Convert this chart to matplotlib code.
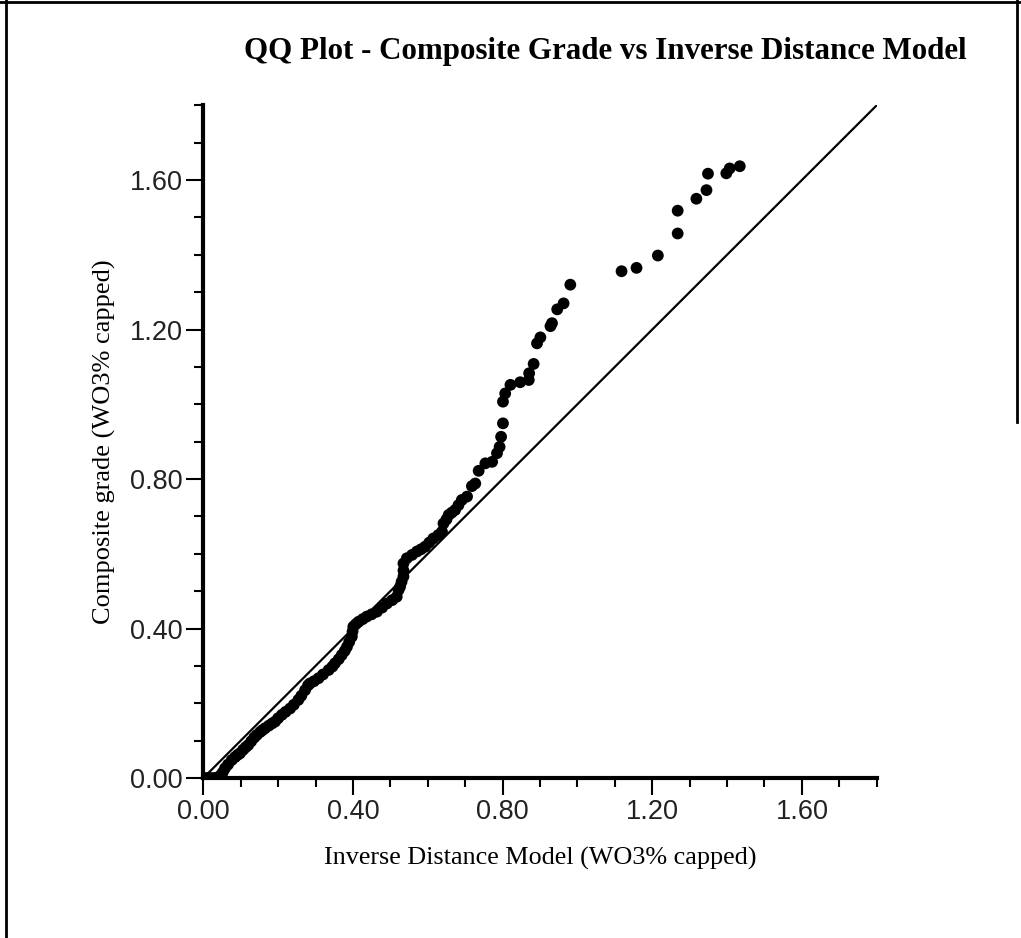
import matplotlib.pyplot as plt
from matplotlib.lines import Line2D
from matplotlib.ticker import MultipleLocator, FormatStrFormatter

# QQ pairs (model quantile, composite quantile)
model_q = [
    0.000, 0.010, 0.020, 0.030, 0.040, 0.045, 0.052, 0.058, 0.066, 0.076,
    0.085, 0.092, 0.098, 0.106, 0.113, 0.120, 0.128, 0.136, 0.143, 0.152,
    0.158, 0.165, 0.175, 0.184, 0.192, 0.200, 0.210, 0.220, 0.232, 0.242,
    0.254, 0.262, 0.272, 0.280, 0.285, 0.296, 0.308, 0.320, 0.335, 0.345,
    0.352, 0.362, 0.370, 0.378, 0.384, 0.390, 0.397, 0.399, 0.401, 0.408,
    0.415, 0.426, 0.437, 0.450, 0.464, 0.478, 0.491, 0.505, 0.517, 0.522,
    0.526, 0.530, 0.535, 0.535, 0.535, 0.544, 0.558, 0.571, 0.582, 0.593,
    0.604, 0.615, 0.628, 0.638, 0.642, 0.650, 0.656, 0.664, 0.673, 0.682,
    0.691, 0.705, 0.718, 0.727, 0.736, 0.754, 0.772, 0.785, 0.792, 0.796,
    0.801, 0.801, 0.807, 0.821, 0.847, 0.870, 0.871, 0.883, 0.892, 0.901,
    0.928, 0.932, 0.946, 0.963, 0.981, 1.118, 1.158, 1.215, 1.268, 1.268,
    1.318, 1.345, 1.349, 1.398, 1.407, 1.434,
]
composite_q = [
    0.000, 0.000, 0.000, 0.000, 0.002, 0.006, 0.015, 0.026, 0.036, 0.048,
    0.056, 0.062, 0.066, 0.075, 0.082, 0.088, 0.098, 0.108, 0.115, 0.123,
    0.128, 0.133, 0.140, 0.146, 0.151, 0.160, 0.169, 0.177, 0.186, 0.196,
    0.209, 0.220, 0.235, 0.248, 0.253, 0.259, 0.267, 0.277, 0.289, 0.298,
    0.307, 0.318, 0.329, 0.340, 0.351, 0.364, 0.378, 0.392, 0.405, 0.412,
    0.418, 0.425, 0.432, 0.438, 0.445, 0.456, 0.467, 0.476, 0.485, 0.503,
    0.512, 0.525, 0.539, 0.555, 0.574, 0.588, 0.597, 0.606, 0.612, 0.619,
    0.630, 0.641, 0.650, 0.659, 0.681, 0.692, 0.704, 0.710, 0.717, 0.730,
    0.744, 0.753, 0.781, 0.788, 0.822, 0.842, 0.846, 0.869, 0.886, 0.913,
    0.949, 1.007, 1.029, 1.052, 1.059, 1.065, 1.083, 1.108, 1.163, 1.179,
    1.209, 1.217, 1.254, 1.270, 1.320, 1.356, 1.365, 1.398, 1.457, 1.518,
    1.550, 1.573, 1.617, 1.618, 1.631, 1.637,
]
ref_line = [0.0, 1.8]

W, H = 1021, 938
fig = plt.figure(figsize=(W / 100, H / 100), dpi=100)
ax = fig.add_axes([203.3 / W, 1 - 778 / H, 673.4 / W, 672.7 / H])

ax.plot(ref_line, ref_line, color="black", lw=1.6, zorder=2)
ax.scatter(model_q, composite_q, s=72, color="black", edgecolors="none", zorder=3)

ax.set_xlim(0, 1.8)
ax.set_ylim(0, 1.8)
for side in ("top", "right"):
    ax.spines[side].set_visible(False)
for side in ("left", "bottom"):
    ax.spines[side].set_linewidth(3.0)

for axis in (ax.xaxis, ax.yaxis):
    axis.set_major_locator(MultipleLocator(0.4))
    axis.set_minor_locator(MultipleLocator(0.1))
    axis.set_major_formatter(FormatStrFormatter("%.2f"))

ax.tick_params(which="major", length=12, width=1.5, direction="out",
               labelsize=19.5, pad=3, labelcolor="#222222")
ax.tick_params(which="minor", length=6.5, width=1.5, direction="out")
for lab in ax.get_xticklabels() + ax.get_yticklabels():
    lab.set_family("Liberation Sans")

ax.set_xlabel("Inverse Distance Model (WO3% capped)", family="Liberation Serif",
              fontsize=18.8, labelpad=16)
ax.set_ylabel("Composite grade (WO3% capped)", family="Liberation Serif",
              fontsize=19, labelpad=10)

fig.text(605 / W, 1 - 52 / H, "QQ Plot - Composite Grade vs Inverse Distance Model",
         family="Liberation Serif", fontweight="bold", fontsize=22.3,
         ha="center", va="center")

# page border (left, top, right)
fig.add_artist(Line2D([6 / W, 6 / W], [0, 1], transform=fig.transFigure,
                      color="black", lw=2))
fig.add_artist(Line2D([0, 1], [1 - 2 / H, 1 - 2 / H], transform=fig.transFigure,
                      color="black", lw=2))
fig.add_artist(Line2D([1017 / W, 1017 / W], [0.55, 1], transform=fig.transFigure,
                      color="black", lw=2))

fig.savefig("out.png", dpi=100, facecolor="white")
